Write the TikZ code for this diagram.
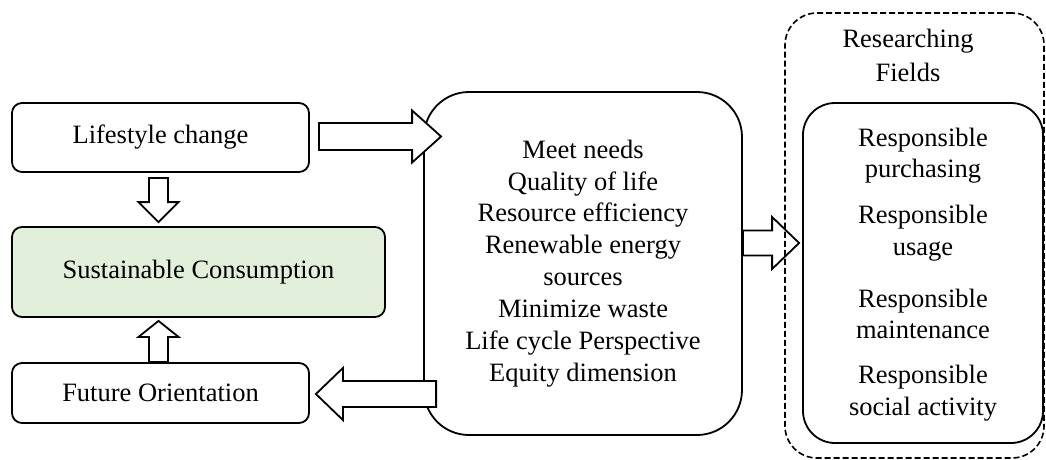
\documentclass[tikz,border=0pt]{standalone}
\usepackage{fontspec}
\setmainfont{Liberation Serif}
\usetikzlibrary{calc}
\definecolor{scgreen}{RGB}{226,239,218}
\tikzset{
  box/.style={draw, line width=1.8pt, rounded corners=10pt, inner sep=0pt, font=\fontsize{26.5}{31.9}\selectfont, align=center},
  txt/.style={font=\fontsize{26.5}{31.5}\selectfont, align=center, inner sep=0pt},
  blk/.style={draw, line width=1.8pt, fill=white, line join=miter},
  dashbox/.style={draw, line width=1.6pt, dash pattern=on 6pt off 3pt, rounded corners=32pt, inner sep=0pt},
}
\newcommand\blockarrow[5]{%
  \path (#1) coordinate (baS) (#2) coordinate (baE);
  \coordinate (baH) at ($(baE)!#5!(baS)$);
  \draw[blk] ($(baS)!#3!90:(baE)$) -- ($(baH)!#3!-90:(baS)$) -- ($(baH)!#4!-90:(baS)$) -- (baE)
     -- ($(baH)!#4!90:(baS)$) -- ($(baH)!#3!90:(baS)$) -- ($(baS)!#3!-90:(baE)$) -- cycle;
}
\begin{document}
\begin{tikzpicture}[x=1pt,y=-1pt]
\useasboundingbox (0,0) rectangle (1046,460);

\node[box, minimum width=297pt, minimum height=69pt] (ls) at (160.5,137.5) {Lifestyle change};
\node[box, fill=scgreen, minimum width=373pt, minimum height=90pt] (sc) at (198.5,272) {Sustainable Consumption};
\node[box, minimum width=297pt, minimum height=60pt] (fo) at (160.5,393) {Future Orientation};

\node[box, rounded corners=45pt, minimum width=318pt, minimum height=343pt] (mid) at (583,263.5)
  {Meet needs\\Quality of life\\Resource efficiency\\Renewable energy\\sources\\Minimize waste\\Life cycle Perspective\\Equity dimension};

\node[box, rounded corners=32pt, minimum width=240pt, minimum height=340pt] (inner) at (923,273) {};
\node[txt] (r1) at (923,155.5) {Responsible\\purchasing};
\node[txt] (r2) at (923,233) {Responsible\\usage};
\node[txt] (r3) at (923,314) {Responsible\\maintenance};
\node[txt] (r4) at (923,393) {Responsible\\social activity};
\node[txt, font=\fontsize{26.5}{34}\selectfont] (rf) at (908,55) {Researching\\Fields};

% block arrows
\blockarrow{$(ls.south)+(-2,5)$}{$(sc.north)+(-40,-4)$}{9.5pt}{20pt}{20pt}
\blockarrow{$(fo.north)+(-2,0)$}{$(sc.south)+(-40,3)$}{9.5pt}{20pt}{16pt}
\blockarrow{$(ls.east)+(9,-1)$}{$(mid.west |- ls.east)+(18,-1)$}{13.5pt}{26pt}{29pt}
\blockarrow{$(mid.west |- fo.east)+(13,1)$}{$(fo.east)+(6,1)$}{13pt}{26pt}{27pt}
\blockarrow{$(mid.east)+(0,-20.5)$}{$(inner.west |- mid.east)+(-3,-20.5)$}{12.5pt}{26pt}{27pt}

\node[dashbox, minimum width=259pt, minimum height=445pt] (outer) at (914.5,235.5) {};
\end{tikzpicture}
\end{document}
